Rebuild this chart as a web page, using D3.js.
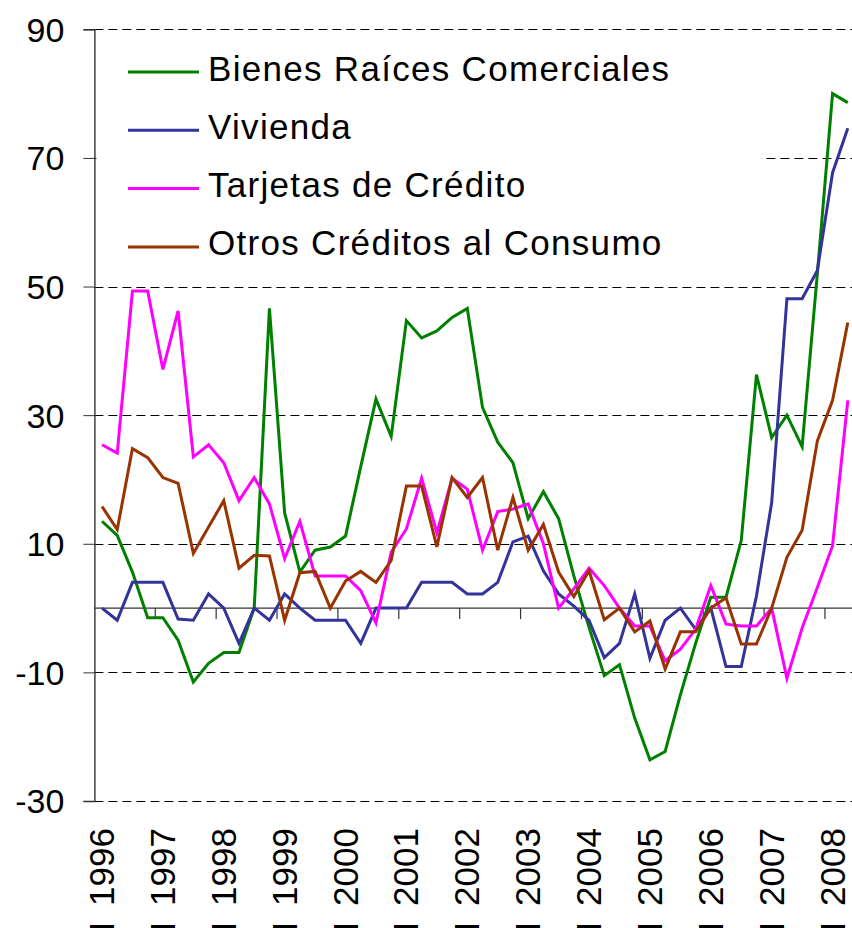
<!DOCTYPE html>
<html>
<head>
<meta charset="utf-8">
<script src="https://cdn.jsdelivr.net/npm/d3@7"></script>
<style>
    body { margin: 0; background: #fff; }
    text { font-family: "Liberation Sans", Arial, sans-serif; }
</style>
</head>
<body>
<script>

// years on the x axis, each one split in 4 quarters
const years = [1996, 1997, 1998, 1999, 2000, 2001, 2002, 2003, 2004, 2005, 2006, 2007, 2008];
const quarterNames = ["I", "II", "III", "IV"];

const yTicks = [90, 70, 50, 30, 10, -10, -30];

// one value per quarter, I 1996 .. II 2008
const bienesRaices = [13.5, 11.3, 5.6, -1.5, -1.5, -5.0, -11.5, -8.6, -6.9, -6.9,
    0, 46.6, 14.8, 5.6, 9.0, 9.5, 11.2, 22, 32.5, 26.7,
    44.7, 42.0, 43.1, 45.2, 46.6, 31.2, 25.8, 22.6, 13.9, 18.1,
    13.9, 5, -3, -10.5, -8.8, -17.1, -23.6, -22.3, -13.5, -5.5,
    1.7, 1.7, 10.5, 36.3, 26.5, 30, 25.1, 52, 80, 78.6];

const vivienda = [0, -1.9, 4.0, 4.0, 4.0, -1.7, -1.9, 2.2, 0, -5.5,
    0, -1.9, 2.2, 0, -1.9, -1.9, -1.9, -5.5, 0, 0,
    0, 4.0, 4.0, 4.0, 2.2, 2.2, 4.0, 10.3, 11.2, 5.8,
    2.2, 0.3, -1.9, -7.7, -5.5, 2.2, -7.8, -1.9, 0, -3.3,
    0, -9.1, -9.1, 1.9, 16.4, 48.1, 48.1, 52.5, 67.7, 74.6];

const tarjetas = [25.4, 24.1, 49.3, 49.3, 37.1, 46.2, 23.5, 25.4, 22.6, 16.7,
    20.3, 16.2, 7.7, 13.5, 5.0, 5.0, 5.0, 2.7, -2.3, 8.7,
    12.3, 20.2, 11.7, 20.2, 18.5, 9.0, 15.0, 15.4, 16.2, 10.0,
    0, 3.0, 6.2, 3.5, 0, -2.8, -2.8, -8.2, -6.4, -3.3,
    3.5, -2.5, -2.8, -2.8, 0, -10.9, -3.1, 3.2, 9.7, 32.3];

const otrosConsumo = [15.8, 12.2, 24.8, 23.4, 20.3, 19.4, 8.5, 12.6, 16.7, 6.2,
    8.2, 8.1, -1.9, 5.5, 5.7, 0, 4.2, 5.7, 4.0, 7.4,
    19.0, 19.0, 9.5, 20.3, 17.2, 20.3, 9.0, 17.2, 9.0, 13.0,
    5.6, 1.8, 5.8, -1.8, 0, -3.7, -2.0, -9.5, -3.7, -3.7,
    0, 1.6, -5.6, -5.6, 0, 7.9, 12.1, 26, 32.3, 44.4];

const seriesNames = ["Bienes Raíces Comerciales", "Vivienda", "Tarjetas de Crédito", "Otros Créditos al Consumo"];
const seriesColors = ["#008000", "#333399", "#ff00ff", "#993300"];
const seriesValues = [bienesRaices, vivienda, tarjetas, otrosConsumo];


const W = 852, H = 928;
const plotLeft = 94.4, plotTop = 29.3, plotBottom = 801;

// every quarter of every year, also the ones without data
const quarters = [];
years.forEach(y => quarterNames.forEach(q => quarters.push(q + " " + y)));

const x = d3.scaleBand()
    .domain(quarters)
    .range([plotLeft, plotLeft + quarters.length * 15.22]);

const y = d3.scaleLinear()
    .domain([-30, 90])
    .range([plotBottom, plotTop]);

const px = i => x(quarters[i]) + x.bandwidth() / 2;

const svg = d3.select("body")
    .append("svg")
    .attr("width", W)
    .attr("height", H);

// dashed gridlines
svg.append("g")
    .selectAll("line")
    .data(yTicks)
    .enter().append("line")
    .attr("x1", plotLeft)
    .attr("x2", W)
    .attr("y1", d => Math.round(y(d)) + 0.5)
    .attr("y2", d => Math.round(y(d)) + 0.5)
    .attr("stroke", "#000")
    .attr("stroke-width", 1)
    .attr("stroke-dasharray", "9,5");

// y axis with its labels (plain hyphen, not the d3 minus sign)
const yAxis = d3.axisLeft(y)
    .tickValues(yTicks)
    .tickSize(11)
    .tickPadding(19)
    .tickFormat(d => String(d));

const gy = svg.append("g")
    .attr("transform", `translate(${plotLeft},0)`)
    .call(yAxis);

gy.select(".domain").attr("stroke", "#333").attr("stroke-width", 1.4);
gy.selectAll(".tick line").attr("stroke", "#333");
gy.selectAll(".tick text")
    .attr("font-size", "34px")
    .attr("font-family", "Liberation Sans, Arial, sans-serif")
    .attr("fill", "#000")
    .attr("dy", "0.35em");

// legend box over the grid
svg.append("rect")
    .attr("x", plotLeft + 2)
    .attr("y", 36)
    .attr("width", 665)
    .attr("height", 238)
    .attr("fill", "#fff");

// zero line with year ticks below it
svg.append("line")
    .attr("x1", plotLeft)
    .attr("x2", W)
    .attr("y1", y(0))
    .attr("y2", y(0))
    .attr("stroke", "#333")
    .attr("stroke-width", 1.4);

svg.append("g")
    .selectAll("line")
    .data(years.slice(1))
    .enter().append("line")
    .attr("x1", d => x("I " + d))
    .attr("x2", d => x("I " + d))
    .attr("y1", y(0))
    .attr("y2", y(0) + 11)
    .attr("stroke", "#333")
    .attr("stroke-width", 1.2);

// year labels, turned on their side ("I" is mostly cut off at the bottom)
const yearLabels = svg.append("g")
    .selectAll("text")
    .data(years)
    .enter().append("text")
    .attr("transform", d => `translate(${px(quarters.indexOf("I " + d)) + 12},828) rotate(-90)`)
    .attr("text-anchor", "end")
    .attr("font-size", "35px")
    .attr("fill", "#000");

yearLabels.append("tspan").text("I");
yearLabels.append("tspan").attr("dx", 16).text(d => d);

// the four series
const line = d3.line()
    .x((d, i) => px(i))
    .y(d => y(d));

svg.append("g")
    .selectAll("path")
    .data(seriesValues)
    .enter().append("path")
    .attr("d", d => line(d))
    .attr("fill", "none")
    .attr("stroke", (d, i) => seriesColors[i])
    .attr("stroke-width", 3)
    .attr("stroke-linejoin", "miter");

// legend
const legend = svg.append("g")
    .selectAll("g")
    .data(seriesNames)
    .enter().append("g")
    .attr("transform", (d, i) => `translate(128,${72 + i * 58.3})`);

legend.append("line")
    .attr("x1", 0)
    .attr("x2", 71)
    .attr("stroke", (d, i) => seriesColors[i])
    .attr("stroke-width", 3);

legend.append("text")
    .attr("x", 80)
    .attr("y", 8.5)
    .attr("font-size", "35px")
    .attr("letter-spacing", "1.3px")
    .attr("fill", "#000")
    .text(d => d);

</script>
</body>
</html>
